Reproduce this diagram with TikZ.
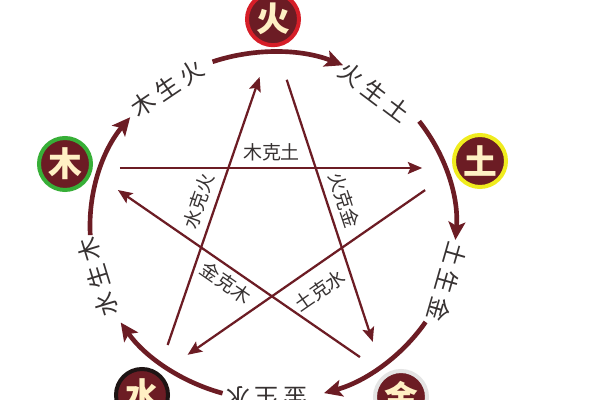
\documentclass[tikz,border=0pt]{standalone}
\usepackage{fontspec}
\newfontfamily\cjk{Noto Sans CJK SC}
\usetikzlibrary{arrows.meta}
\definecolor{wine}{RGB}{108,28,36}
\definecolor{cream}{RGB}{255,240,196}
\definecolor{ink}{RGB}{55,50,50}
\definecolor{firering}{RGB}{214,30,40}
\definecolor{woodring}{RGB}{55,175,55}
\definecolor{earthring}{RGB}{240,236,30}
\definecolor{waterring}{RGB}{30,20,20}
\definecolor{metalring}{RGB}{228,228,228}
\tikzset{
	element/.style={circle, fill=wine, text=cream, minimum size=1.3cm, inner sep=0pt, line width=0.1cm, font=\cjk\bfseries\fontsize{24}{24}\selectfont},
	sheng/.style={wine, line width=3.3pt, -{Stealth[length=0.45cm,width=0.42cm,inset=0.1cm]}},
	ke/.style={wine, line width=1.6pt, -{Stealth[length=0.36cm,width=0.3cm,inset=0.07cm]}},
	shengtext/.style={text=ink, inner sep=0pt, font=\cjk\fontsize{17}{17}\selectfont},
	ketext/.style={text=ink, inner sep=0pt, sloped, font=\cjk\fontsize{13.5}{14}\selectfont}
}
\begin{document}
\begin{tikzpicture}
	\useasboundingbox[fill=white] (-6.825,-4.35) rectangle (8.175,5.65);
	% sheng cycle
	\foreach \a/\b in {183/141.3, 109.3/67.5, 37/-4.6, -33.5/-73.8, -106/-146.3}
		\draw[sheng] (\a:4.575 and 4.35) arc[start angle=\a, end angle=\b, x radius=4.575, y radius=4.35];
	\node[shengtext, rotate=34] (mushenghuo) at (-2.65,3.45) {木\hspace{3.5pt}生\hspace{3.5pt}火};
	\node[shengtext, rotate=-37] (huoshengtu) at (2.55,3.35) {火\hspace{3.5pt}生\hspace{3.5pt}土};
	\node[shengtext, rotate=-106] (tushengjin) at (4.35,-1.4) {土\hspace{3.5pt}生\hspace{3.5pt}金};
	\node[shengtext, rotate=180] (jinshengshui) at (-0.15,-4.3) {金\hspace{3.5pt}生\hspace{3.5pt}水};
	\node[shengtext, rotate=107] (shuishengmu) at (-4.375,-1.275) {水\hspace{3.5pt}生\hspace{3.5pt}木};
	% ke star
	\coordinate (pfire) at (0,4.7);
	\coordinate (pearth) at (4.6,1.45);
	\coordinate (pmetal) at (2.75,-3.675);
	\coordinate (pwater) at (-2.9,-3.75);
	\coordinate (pwood) at (-4.675,1.45);
	\draw[ke, shorten <=0.85cm, shorten >=0.87cm] (pwood) -- node[ketext, above=4.4pt] (mukotu) {木克土} (pearth);
	\draw[ke, shorten <=1.1cm, shorten >=0.82cm] (pfire) -- node[ketext, above=5pt] (huokejin) {火克金} (pmetal);
	\draw[ke, shorten <=0.97cm, shorten >=0.93cm] (pearth) -- node[ketext, below=9pt] (tukeshui) {土克水} (pwater);
	\draw[ke, shorten <=0.82cm, shorten >=1.03cm] (pwater) -- node[ketext, above=5pt] (shuikehuo) {水克火} (pfire);
	\draw[ke, shorten <=0.7cm, shorten >=0.97cm] (pmetal) -- node[ketext, below=3.5pt] (jinkemu) {金克木} (pwood);
	% elements
	\node[element, draw=firering] (fire) at (0,5.17) {火};
	\node[element, draw=woodring] (wood) at (-5.2,1.55) {木};
	\node[element, draw=earthring] (earth) at (5.175,1.625) {土};
	\node[element, draw=waterring] (water) at (-3.275,-4.225) {水};
	\node[element, draw=metalring] (metal) at (3.2,-4.275) {金};
\end{tikzpicture}
\end{document}
